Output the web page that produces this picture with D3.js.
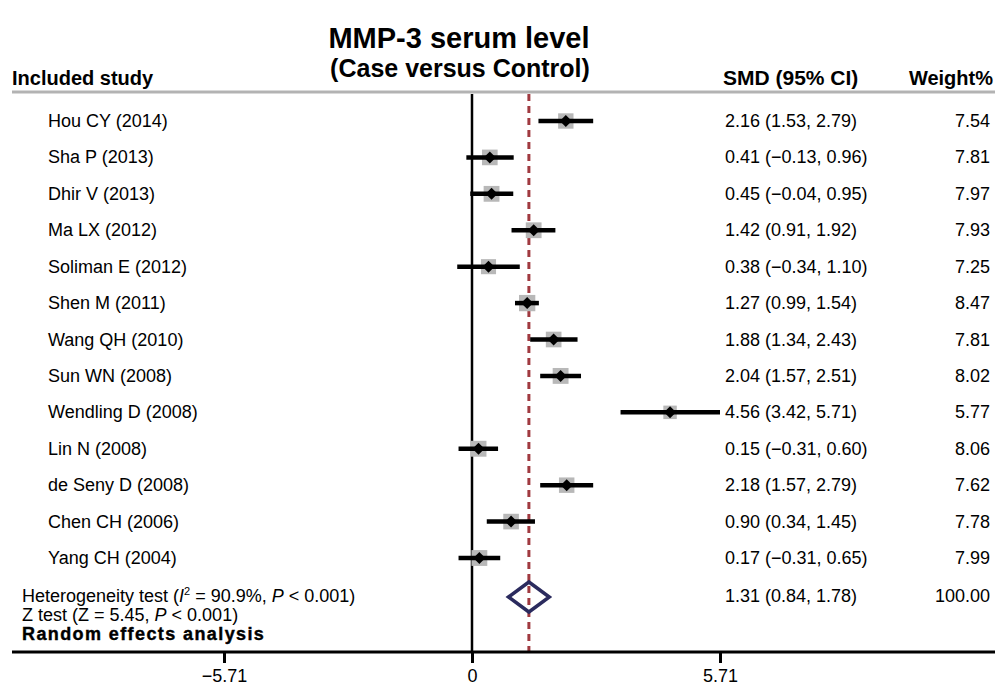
<!DOCTYPE html>
<html>
<head><meta charset="utf-8">
<style>
  body { margin: 0; background: #fff; }
  svg { font-family: "Liberation Sans", Arial, sans-serif; }
</style>
</head>
<body>
<script src="https://d3js.org/d3.v7.min.js"></script>
<script>
var studies = ["Hou CY (2014)", "Sha P (2013)", "Dhir V (2013)", "Ma LX (2012)", "Soliman E (2012)",
  "Shen M (2011)", "Wang QH (2010)", "Sun WN (2008)", "Wendling D (2008)", "Lin N (2008)",
  "de Seny D (2008)", "Chen CH (2006)", "Yang CH (2004)"];
var smd = [2.16, 0.41, 0.45, 1.42, 0.38, 1.27, 1.88, 2.04, 4.56, 0.15, 2.18, 0.90, 0.17];
var lower = [1.53, -0.13, -0.04, 0.91, -0.34, 0.99, 1.34, 1.57, 3.42, -0.31, 1.57, 0.34, -0.31];
var upper = [2.79, 0.96, 0.95, 1.92, 1.10, 1.54, 2.43, 2.51, 5.71, 0.60, 2.79, 1.45, 0.65];
var weights = [7.54, 7.81, 7.97, 7.93, 7.25, 8.47, 7.81, 8.02, 5.77, 8.06, 7.62, 7.78, 7.99];
var pooled = {smd: 1.31, lower: 0.84, upper: 1.78, weight: 100.00};
var xTicks = [-5.71, 0, 5.71];

var width = 995, height = 685;
var svg = d3.select("body").append("svg").attr("width", width).attr("height", height);

var x = d3.scaleLinear().domain([-5.71, 5.71]).range([224, 720]);
var y = d3.scalePoint().domain(d3.range(studies.length)).range([121, 558]);
var ySum = 597, yTop = 94, yAxis = 652;

function fmt(v) { return v.toFixed(2).replace("-", "\u2212"); }

// title
svg.append("text").attr("x", 459).attr("y", 48).attr("text-anchor", "middle")
  .style("font-size", "29px").style("font-weight", "bold").text("MMP-3 serum level");
svg.append("text").attr("x", 460).attr("y", 77).attr("text-anchor", "middle")
  .style("font-size", "25px").style("font-weight", "bold").text("(Case versus Control)");

// headers
svg.append("text").attr("x", 12).attr("y", 85).style("font-size", "20px").style("font-weight", "bold").text("Included study");
svg.append("text").attr("x", 723).attr("y", 85).style("font-size", "21px").style("font-weight", "bold").text("SMD (95% CI)");
svg.append("text").attr("x", 993).attr("y", 85).attr("text-anchor", "end").style("font-size", "20px").style("font-weight", "bold").text("Weight%");
svg.append("line").attr("x1", 12).attr("x2", width).attr("y1", 92).attr("y2", 92)
  .attr("stroke", "#b3b3b3").attr("stroke-width", 3);

// zero line and pooled line
svg.append("line").attr("x1", x(0)).attr("x2", x(0)).attr("y1", yTop).attr("y2", yAxis)
  .attr("stroke", "#000").attr("stroke-width", 2.5);
svg.append("line").attr("x1", x(pooled.smd)).attr("x2", x(pooled.smd)).attr("y1", yTop).attr("y2", yAxis)
  .attr("stroke", "#a03a40").attr("stroke-width", 3).attr("stroke-dasharray", "7,5");

// study rows
var rows = svg.append("g").selectAll("g").data(studies).enter().append("g")
  .attr("transform", function(d, i) { return "translate(0," + y(i) + ")"; });

rows.append("text").attr("x", 48).attr("y", 6).style("font-size", "18px").text(function(d) { return d; });
rows.append("text").attr("x", 725).attr("y", 6).style("font-size", "18px")
  .text(function(d, i) { return fmt(smd[i]) + " (" + fmt(lower[i]) + ", " + fmt(upper[i]) + ")"; });
rows.append("text").attr("x", 990).attr("y", 6).attr("text-anchor", "end").style("font-size", "18px")
  .text(function(d, i) { return weights[i].toFixed(2); });

rows.append("rect")
  .attr("x", function(d, i) { return x(smd[i]) - Math.sqrt(weights[i]) * 2.8; })
  .attr("y", function(d, i) { return -Math.sqrt(weights[i]) * 2.8; })
  .attr("width", function(d, i) { return Math.sqrt(weights[i]) * 5.6; })
  .attr("height", function(d, i) { return Math.sqrt(weights[i]) * 5.6; })
  .attr("fill", "#b8b8b8");
rows.append("line")
  .attr("x1", function(d, i) { return x(lower[i]); })
  .attr("x2", function(d, i) { return x(upper[i]); })
  .attr("stroke", "#000").attr("stroke-width", 4.5);
rows.append("path")
  .attr("d", function(d, i) { var cx = x(smd[i]); return "M" + (cx - 6) + ",0L" + cx + ",-6L" + (cx + 6) + ",0L" + cx + ",6Z"; })
  .attr("fill", "#000");

// pooled diamond
svg.append("path")
  .attr("d", "M" + x(pooled.lower) + "," + ySum + "L" + x(pooled.smd) + "," + (ySum - 15) +
    "L" + x(pooled.upper) + "," + ySum + "L" + x(pooled.smd) + "," + (ySum + 15) + "Z")
  .attr("fill", "none").attr("stroke", "#2b2b5e").attr("stroke-width", 3.5);
svg.append("text").attr("x", 725).attr("y", ySum + 5).style("font-size", "18px")
  .text(fmt(pooled.smd) + " (" + fmt(pooled.lower) + ", " + fmt(pooled.upper) + ")");
svg.append("text").attr("x", 990).attr("y", ySum + 5).attr("text-anchor", "end").style("font-size", "18px")
  .text(pooled.weight.toFixed(2));

// heterogeneity text
var t1 = svg.append("text").attr("x", 22).attr("y", 602).style("font-size", "18px");
t1.append("tspan").text("Heterogeneity test (");
t1.append("tspan").style("font-style", "italic").text("I");
t1.append("tspan").attr("dy", -7).style("font-size", "11px").text("2");
t1.append("tspan").attr("dy", 7).text(" = 90.9%, ");
t1.append("tspan").style("font-style", "italic").text("P");
t1.append("tspan").text(" < 0.001)");
var t2 = svg.append("text").attr("x", 22).attr("y", 621).style("font-size", "18px");
t2.append("tspan").text("Z test (Z = 5.45, ");
t2.append("tspan").style("font-style", "italic").text("P");
t2.append("tspan").text(" < 0.001)");
svg.append("text").attr("x", 22).attr("y", 640).style("font-size", "18px").style("font-weight", "900")
  .style("letter-spacing", "1.4px").attr("stroke", "#000").attr("stroke-width", 0.4)
  .text("Random effects analysis");

// axis
svg.append("line").attr("x1", 12).attr("x2", width).attr("y1", yAxis).attr("y2", yAxis)
  .attr("stroke", "#000").attr("stroke-width", 3);
var axis = svg.append("g").attr("transform", "translate(0," + yAxis + ")")
  .call(d3.axisBottom(x).tickValues(xTicks).tickSize(11).tickFormat(function(d) { return d === 0 ? "0" : fmt(d); }));
axis.select(".domain").remove();
axis.selectAll(".tick line").attr("stroke", "#000").attr("stroke-width", 3);
axis.selectAll(".tick text").attr("y", 30).attr("dy", 0).style("font-size", "18px")
  .style("font-family", "'Liberation Sans', Arial, sans-serif").attr("fill", "#000");
</script>
</body>
</html>
